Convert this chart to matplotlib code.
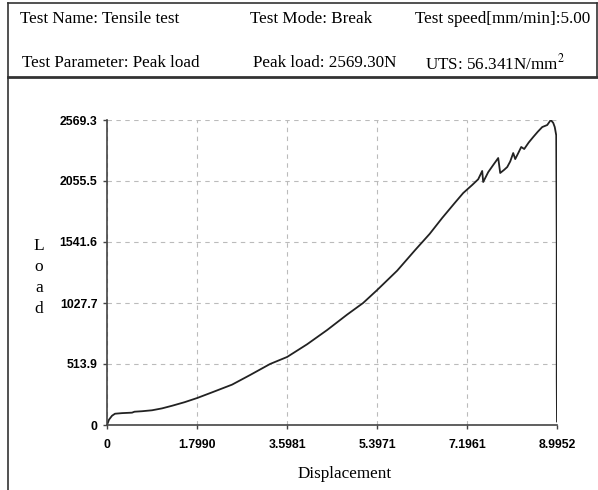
import matplotlib
matplotlib.use("Agg")
import matplotlib.pyplot as plt
from matplotlib.lines import Line2D

plt.rcParams["mathtext.fontset"] = "stix"

# Test header information
header_row1 = ["Test Name: Tensile test", "Test Mode: Break", "Test speed[mm/min]:5.00"]
header_row2 = ["Test Parameter: Peak load", "Peak load: 2569.30N", "UTS: 56.341N/mm$^2$"]

# Axis ticks
x_ticks = [0, 1.7990, 3.5981, 5.3971, 7.1961, 8.9952]
x_tick_labels = ["0", "1.7990", "3.5981", "5.3971", "7.1961", "8.9952"]
y_ticks = [0, 513.9, 1027.7, 1541.6, 2055.5, 2569.3]
y_tick_labels = ["0", "513.9", "1027.7", "1541.6", "2055.5", "2569.3"]

# Load-displacement curve
displacement = [0.00, 0.04, 0.10, 0.16, 0.30, 0.50, 0.55, 0.70, 0.90, 1.10, 1.30,
                1.55, 1.80, 2.10, 2.50, 2.86, 3.26, 3.60, 4.00, 4.40, 4.80,
                5.12, 5.40, 5.80, 6.16, 6.45, 6.70, 6.95, 7.12, 7.30, 7.42,
                7.50, 7.52, 7.62, 7.72, 7.82, 7.86, 7.94, 8.00, 8.06, 8.12,
                8.16, 8.22, 8.28, 8.34, 8.43, 8.52, 8.61, 8.70, 8.80, 8.87,
                8.92, 8.95, 8.98, 8.99, 8.99, 8.995]
load = [0, 45, 78, 95, 100, 104, 112, 116, 124, 140, 162,
        192, 227, 275, 340, 421, 514, 573, 680, 800, 930,
        1028, 1137, 1300, 1474, 1610, 1744, 1870, 1954, 2022, 2070,
        2140, 2047, 2130, 2190, 2249, 2123, 2150, 2173, 2220, 2291,
        2240, 2290, 2342, 2325, 2380, 2426, 2470, 2510, 2527, 2569.3,
        2545, 2510, 2440, 1500, 400, 30]

W, H = 598, 490
fig = plt.figure(figsize=(W / 100, H / 100), dpi=100)

serif = ["Liberation Serif", "DejaVu Serif"]
sans = ["Liberation Sans", "DejaVu Sans"]

def fx(px):
    return px / W

def fy(py):
    return 1 - py / H

# Frame lines of the report
frame = [
    ([fx(8), fx(597)], [fy(3), fy(3)], 1.2),
    ([fx(8), fx(8)], [fy(3), fy(490)], 1.2),
    ([fx(597), fx(597)], [fy(3), fy(77)], 1.2),
    ([fx(8), fx(598)], [fy(77), fy(77)], 2.0),
]
for xs, ys, lw in frame:
    fig.add_artist(Line2D(xs, ys, color="#333333", lw=lw, transform=fig.transFigure))

# Header text
for x, t in zip([20, 250, 415], header_row1):
    fig.text(fx(x), fy(19), t, family=serif, fontsize=12.3, ha="left", va="center")
for x, t in zip([22, 253, 425], header_row2):
    fig.text(fx(x), fy(63), t, family=serif, fontsize=12.3, ha="left", va="center")

# Plot area
ax = fig.add_axes([fx(107), fy(425), fx(557) - fx(107), fy(120) - fy(425)])
ax.plot(displacement, load, color="#222222", lw=1.3, solid_joinstyle="round")
ax.set_xlim(0, 8.9952)
ax.set_ylim(0, 2569.3)

ax.set_xticks(x_ticks)
ax.set_xticklabels(x_tick_labels)
ax.set_yticks(y_ticks)
ax.set_yticklabels(y_tick_labels)
for lbl in ax.get_xticklabels() + ax.get_yticklabels():
    lbl.set_family(sans)
    lbl.set_fontweight("bold")
    lbl.set_fontsize(8.8)
ax.tick_params(axis="both", direction="out", length=3, width=1, color="#444444")
ax.tick_params(axis="y", pad=4)
ax.tick_params(axis="x", pad=7)

ax.grid(True, color="#bbbbbb", ls=(0, (4, 4)), lw=0.8)
ax.set_axisbelow(True)

for side in ["top", "right"]:
    ax.spines[side].set_visible(False)
for side in ["left", "bottom"]:
    ax.spines[side].set_color("#444444")
    ax.spines[side].set_linewidth(1.2)

# Axis titles
fig.text(fx(345), fy(474), "Displacement", family=serif, fontsize=12.3, ha="center", va="center")
for i, ch in enumerate("Load"):
    fig.text(fx(39), fy(246 + i * 21), ch, family=serif, fontsize=12.5, ha="center", va="center")

fig.savefig("out.png", dpi=100)
